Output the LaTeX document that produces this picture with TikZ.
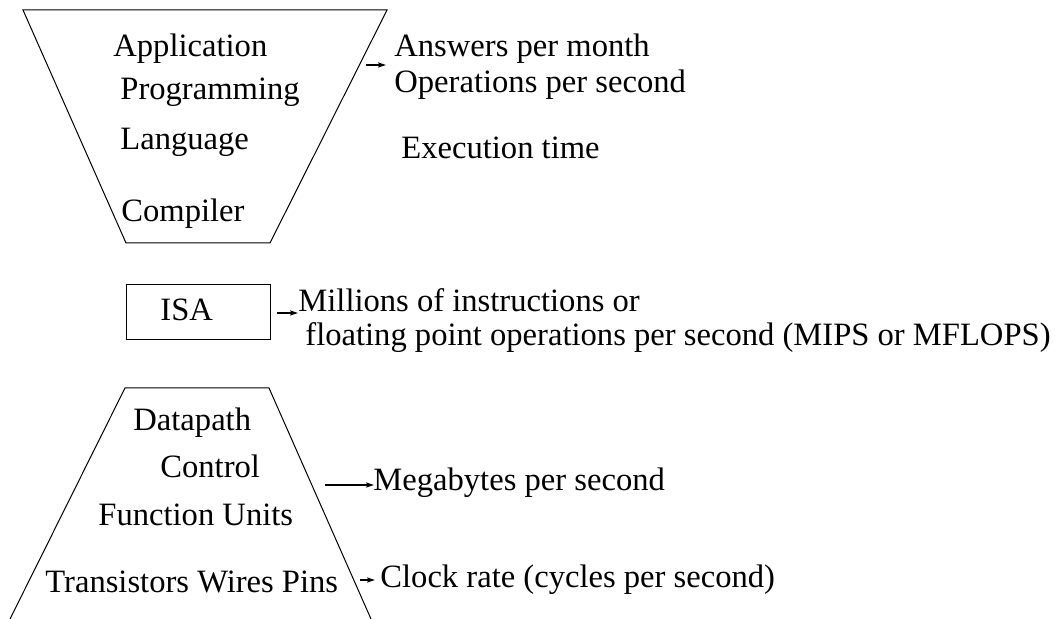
\documentclass[tikz,border=0pt]{standalone}
\usepackage{fontspec}
\setmainfont{Liberation Serif}
\usetikzlibrary{arrows.meta}
\begin{document}
\begin{tikzpicture}[x=0.5pt,y=-0.5pt,
  lbl/.style={anchor=base west,inner sep=0pt,font=\fontsize{16.3}{19}\selectfont},
  shp/.style={draw,line width=0.5pt},
  arr/.style={draw,line width=0.7pt,-{Stealth[length=4pt,width=2.6pt,inset=0.8pt]}}]
\useasboundingbox (0,0) rectangle (1055,619);
% top trapezoid
\coordinate (t1) at (23,10);
\coordinate (t2) at (387,10);
\coordinate (t3) at (270,243);
\coordinate (t4) at (126,243);
\draw[shp] (t1) -- (t2) -- (t3) -- (t4) -- cycle;
\node[lbl] (app) at (113,57) {Application};
\node[lbl] (prog) at (120,100) {Programming};
\node[lbl] (lang) at (120,150) {Language};
\node[lbl] (comp) at (121,222) {Compiler};
\node[lbl] (ans) at (394,57) {Answers per month};
\node[lbl] (ops) at (394,93) {Operations per second};
\node[lbl] (exe) at (401,159) {Execution time};
\coordinate (a1s) at (366,65);
\coordinate (a1e) at (386,65);
\draw[arr] (a1s) -- (a1e);
% ISA box
\node[shp,minimum width=72pt,minimum height=27.5pt,inner sep=0pt] (isa) at (198,312.5) {};
\node[lbl] (isat) at (160,321) {ISA};
\node[lbl] (mil) at (298,312) {Millions of instructions or};
\node[lbl] (flt) at (305,346) {floating point operations per second (MIPS or MFLOPS)};
\coordinate (a2s) at (277,313);
\coordinate (a2e) at (298,313);
\draw[arr] (a2s) -- (a2e);
% bottom trapezoid
\coordinate (b1) at (10,619);
\coordinate (b2) at (125,388);
\coordinate (b3) at (269,388);
\coordinate (b4) at (371,619);
\draw[shp] (b1) -- (b2) -- (b3) -- (b4);
\node[lbl] (dp) at (133,431) {Datapath};
\node[lbl] (ctl) at (160,478) {Control};
\node[lbl] (fu) at (98,526) {Function Units};
\node[lbl] (twp) at (45,593) {Transistors Wires Pins};
\node[lbl] (mb) at (373,491) {Megabytes per second};
\node[lbl] (clk) at (380,588) {Clock rate (cycles per second)};
\coordinate (a3s) at (325,485);
\coordinate (a3e) at (374,485);
\draw[arr] (a3s) -- (a3e);
\coordinate (a4s) at (360,580);
\coordinate (a4e) at (375,580);
\draw[arr] (a4s) -- (a4e);
\end{tikzpicture}
\end{document}
